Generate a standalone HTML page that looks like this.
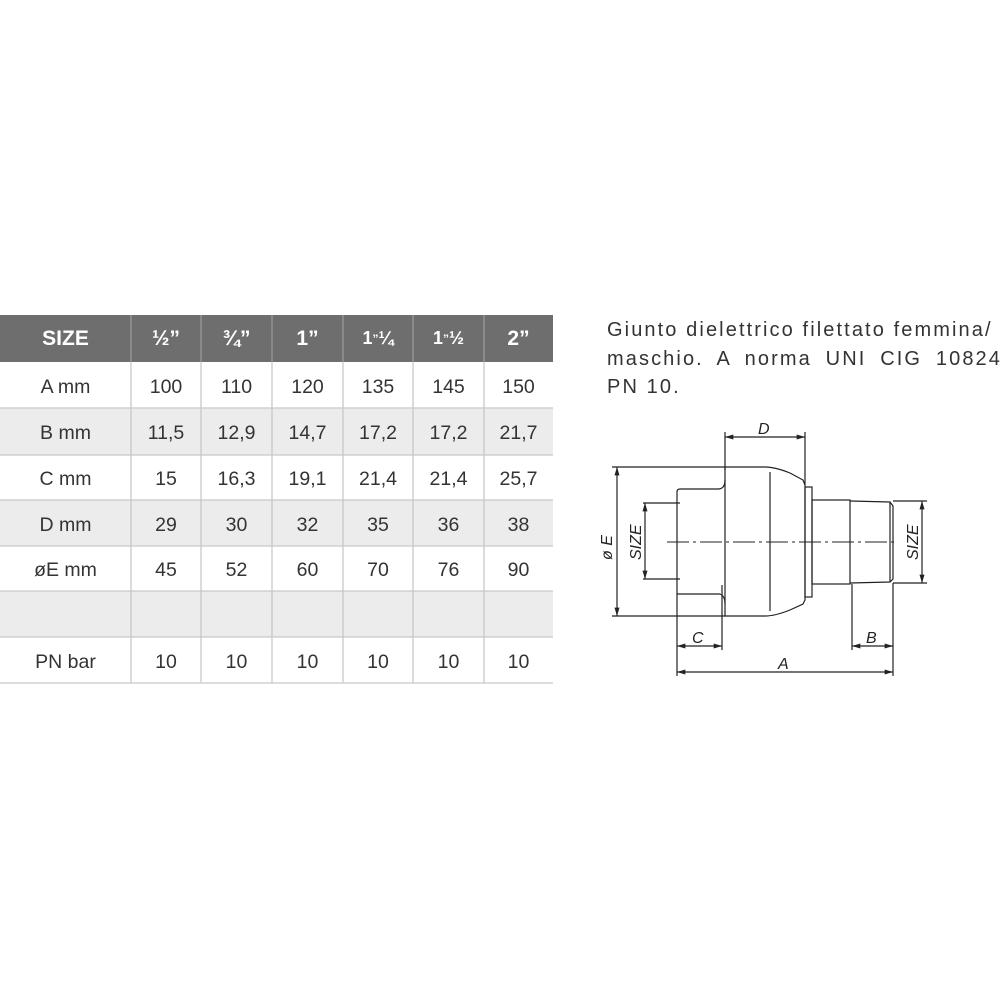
<!DOCTYPE html>
<html><head><meta charset="utf-8"><style>
body{margin:0;width:1000px;height:1000px;background:#fff;position:relative;overflow:hidden;font-family:"Liberation Sans",sans-serif;}
.c{position:absolute;display:flex;align-items:center;justify-content:center;font-size:19.5px;color:#333;box-sizing:border-box;padding-top:4px;}
.h{color:#fff;font-weight:bold;font-size:21px;padding-top:0;}
.txt{position:absolute;left:607px;font-size:20px;color:#333;line-height:28.5px;top:316px;width:395px;letter-spacing:2.1px;white-space:nowrap;}
.txt span{display:block;}
.txt span.j{text-align:justify;text-align-last:justify;white-space:normal;}
</style></head><body>
<div style="position:absolute;left:0;top:315px;width:553px;height:47px;background:#6e6e6e"></div>
<div style="position:absolute;left:0;top:408px;width:553px;height:47px;background:#ececec"></div>
<div style="position:absolute;left:0;top:500px;width:553px;height:46px;background:#ececec"></div>
<div style="position:absolute;left:0;top:591px;width:553px;height:46px;background:#ececec"></div>
<svg style="position:absolute;left:0;top:0" width="1000" height="1000">
<defs>
<marker id="a" viewBox="0 0 10 6" refX="10" refY="3" markerWidth="9" markerHeight="5" orient="auto-start-reverse" markerUnits="userSpaceOnUse"><path d="M0 0 L10 3 L0 6 Z" fill="#222"/></marker>
</defs>
<g stroke="#c8c8c8" stroke-width="1.3">
<line x1="0" y1="408" x2="553" y2="408"/><line x1="0" y1="455" x2="553" y2="455"/><line x1="0" y1="500" x2="553" y2="500"/><line x1="0" y1="546" x2="553" y2="546"/><line x1="0" y1="591" x2="553" y2="591"/><line x1="0" y1="637" x2="553" y2="637"/><line x1="0" y1="683" x2="553" y2="683"/>
<line x1="131" y1="362" x2="131" y2="683"/><line x1="201" y1="362" x2="201" y2="683"/><line x1="272" y1="362" x2="272" y2="683"/><line x1="343" y1="362" x2="343" y2="683"/><line x1="413" y1="362" x2="413" y2="683"/><line x1="484" y1="362" x2="484" y2="683"/>
</g>
<g stroke="#999" stroke-width="1.3">
<line x1="131" y1="315" x2="131" y2="362"/><line x1="201" y1="315" x2="201" y2="362"/><line x1="272" y1="315" x2="272" y2="362"/><line x1="343" y1="315" x2="343" y2="362"/><line x1="413" y1="315" x2="413" y2="362"/><line x1="484" y1="315" x2="484" y2="362"/>
</g>
<g stroke="#222" stroke-width="1.2" fill="none">
<path d="M725 467 L765 467 Q775 467 790 473 L803 480 L805 485 L805 600 L803 604 L790 610 Q775 616 765 616 L725 616 Z"/>
<path d="M725 480 Q725 489 718 489 L680 489 Q677 489 677 492 L677 594 L720 594 Q725 596 725 604"/>
<line x1="770" y1="472" x2="770" y2="611"/>
<rect x="805" y="487" width="7" height="110"/>
<rect x="812" y="500" width="38" height="84"/>
<path d="M850 501 L890 502 L893 506 L893 579 L890 582 L850 583"/>
<line x1="890" y1="502" x2="890" y2="582"/>
<line x1="725" y1="432" x2="725" y2="470"/><line x1="805" y1="432" x2="805" y2="485"/>
<line x1="612" y1="467" x2="725" y2="467"/><line x1="612" y1="616" x2="725" y2="616"/>
<line x1="643" y1="503" x2="680" y2="503"/><line x1="643" y1="579" x2="680" y2="579"/>
<line x1="893" y1="501" x2="927" y2="501"/><line x1="893" y1="583" x2="927" y2="583"/>
<line x1="677" y1="594" x2="677" y2="676"/><line x1="893" y1="583" x2="893" y2="676"/>
<line x1="852" y1="584" x2="852" y2="650"/><line x1="722" y1="585" x2="722" y2="650"/>
<g marker-start="url(#a)" marker-end="url(#a)">
<line x1="617" y1="467" x2="617" y2="616"/>
<line x1="645" y1="503" x2="645" y2="579"/>
<line x1="922" y1="501" x2="922" y2="583"/>
<line x1="725" y1="437" x2="805" y2="437"/>
<line x1="677" y1="646" x2="722" y2="646"/><line x1="852" y1="646" x2="893" y2="646"/>
<line x1="677" y1="672" x2="893" y2="672"/>
</g>
<line x1="667" y1="542" x2="897" y2="542" stroke-dasharray="22 4 3 4" stroke-width="1"/>
</g>
<g fill="#222" font-family="Liberation Sans" font-style="italic" font-size="16">
<text x="758" y="434">D</text><text x="692" y="643">C</text><text x="866" y="643">B</text><text x="778" y="669">A</text>
<text transform="translate(612 560) rotate(-90)">ø E</text>
<text transform="translate(641 560) rotate(-90)">SIZE</text>
<text transform="translate(918 560) rotate(-90)">SIZE</text>
</g>
</svg>
<div class="c h" style="left:0;top:315px;width:131px;height:47px">SIZE</div>
<div class="c h" style="left:131px;top:315px;width:70px;height:47px">½”</div>
<div class="c h" style="left:201px;top:315px;width:71px;height:47px">¾”</div>
<div class="c h" style="left:272px;top:315px;width:71px;height:47px">1”</div>
<div class="c h" style="left:343px;top:315px;width:70px;height:47px;font-size:18px">1<sup style="font-size:12px">”</sup>¼</div>
<div class="c h" style="left:413px;top:315px;width:71px;height:47px;font-size:18px">1<sup style="font-size:12px">”</sup>½</div>
<div class="c h" style="left:484px;top:315px;width:69px;height:47px">2”</div>
<div id="rows"></div>
<div class="txt"><span>Giunto dielettrico filettato femmina/</span><span class="j">maschio. A norma UNI CIG 10824</span><span>PN 10.</span></div>
<script>
var ys=[362,408,455,500,546,591,637,683];
var xs=[0,131,201,272,343,413,484,553];
var d=[["A mm","100","110","120","135","145","150"],["B mm","11,5","12,9","14,7","17,2","17,2","21,7"],["C mm","15","16,3","19,1","21,4","21,4","25,7"],["D mm","29","30","32","35","36","38"],["øE mm","45","52","60","70","76","90"],["","","","","","",""],["PN bar","10","10","10","10","10","10"]];
var h="";
for(var r=0;r<7;r++)for(var c=0;c<7;c++){h+='<div class="c" style="left:'+xs[c]+'px;top:'+ys[r]+'px;width:'+(xs[c+1]-xs[c])+'px;height:'+(ys[r+1]-ys[r])+'px">'+d[r][c]+'</div>';}
document.getElementById("rows").innerHTML=h;
</script>
</body></html>
